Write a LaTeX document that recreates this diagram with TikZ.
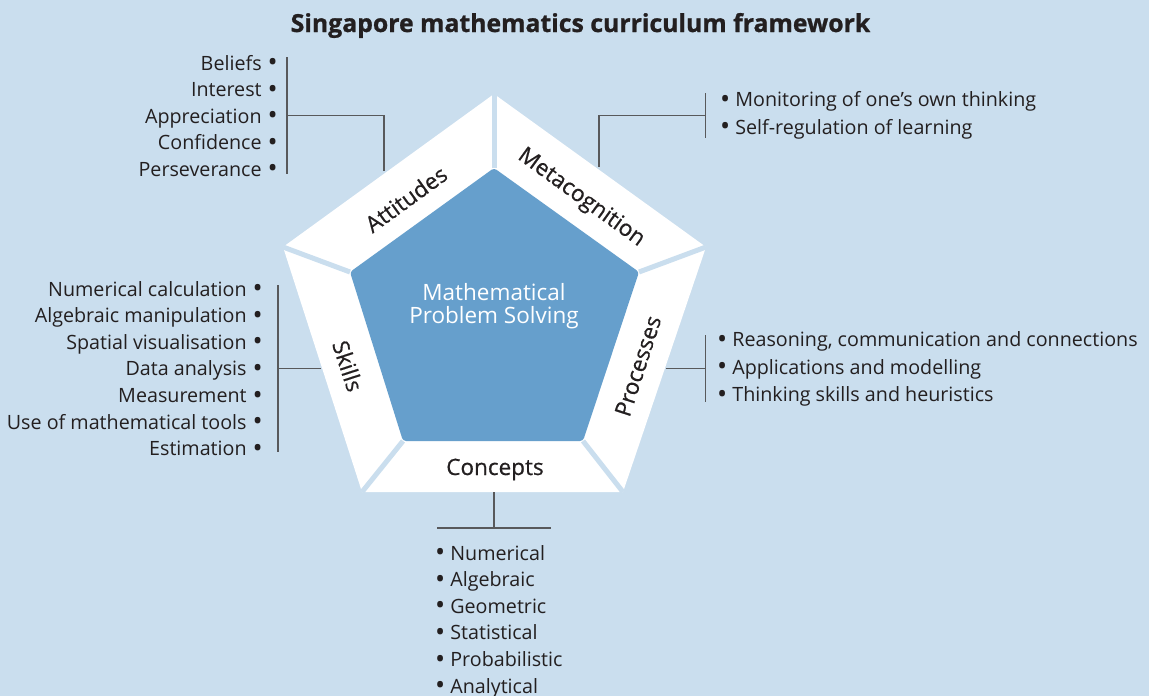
\documentclass[tikz,border=0pt]{standalone}
\usepackage{fontspec}
\setmainfont{Open Sans}
\newfontfamily\labfont[FakeBold=0.6]{Open Sans}
\newfontfamily\titlefont[FakeBold=0.9]{Open Sans Bold}
\newcommand{\bul}{\raisebox{-1.6pt}{\fontsize{27}{27}\selectfont\textbullet}}
\definecolor{bg}{HTML}{CADEEE}
\definecolor{core}{HTML}{669FCC}
\definecolor{ink}{HTML}{231F20}
\definecolor{rule}{HTML}{58595B}
\begin{document}
\begin{tikzpicture}[x=1pt,y=-1pt,
  listtxt/.style={inner sep=0pt, text=ink, font=\fontsize{19.7}{24}\selectfont},
  leftitem/.style={listtxt, anchor=base east},
  rightitem/.style={listtxt, anchor=base west},
  seglabel/.style={inner sep=0pt, text=ink, font=\labfont\fontsize{22.5}{26}\selectfont},
  conn/.style={draw=rule, line width=1.2pt},
  sep/.style={draw=bg, line width=5pt}]
\fill[bg] (0,0) rectangle (1149,696);
\useasboundingbox (0,0) rectangle (1149,696);

% title
\node[anchor=base, inner sep=0pt, text=ink, font=\titlefont\fontsize{24.8}{28}\selectfont] (title) at (580.5,32) {Singapore mathematics curriculum framework};

% pentagon geometry
\coordinate (O1) at (494,94);
\coordinate (O2) at (706,247);
\coordinate (O3) at (623,492);
\coordinate (O4) at (362,492);
\coordinate (O5) at (283,247);
\coordinate (I1) at (494,168);
\coordinate (I2) at (639,272);
\coordinate (I3) at (583,441);
\coordinate (I4) at (403,441);
\coordinate (I5) at (350,272);

\fill[white] (O1) -- (O2) -- (O3) -- (O4) -- (O5) -- cycle;
\fill[core, rounded corners=3pt] (I1) -- (I2) -- (I3) -- (I4) -- (I5) -- cycle;
\foreach \k in {1,...,5} { \draw[sep] (I\k) -- (O\k); }

% segment labels
\node[seglabel, rotate=36] (attL) at (406,199) {Attitudes};
\node[seglabel, rotate=-36] (metaL) at (581,198) {Metacognition};
\node[seglabel, rotate=-72] (skillL) at (348,366) {Skills};
\node[seglabel, rotate=72] (procL) at (638,366) {Processes};
\node[seglabel, anchor=base] (concL) at (495,475) {Concepts};

% centre
\node[inner sep=0pt, text=white, font=\fontsize{22.5}{26}\selectfont, anchor=base] (core1) at (494,300) {Mathematical};
\node[inner sep=0pt, text=white, font=\fontsize{22.5}{26}\selectfont, anchor=base] (core2) at (494,323.5) {Problem Solving};

% lists
\foreach \t [count=\i] in {Beliefs,Interest,Appreciation,Confidence,Perseverance}
  \node[leftitem] (att\i) at (278,{70+26.5*(\i-1)}) {\t\hspace{6pt}\bul};
\foreach \t [count=\i] in {Numerical calculation,Algebraic manipulation,Spatial visualisation,Data analysis,Measurement,Use of mathematical tools,Estimation}
  \node[leftitem] (sk\i) at (263,{296+26.6*(\i-1)}) {\t\hspace{6pt}\bul};
\foreach \t [count=\i] in {Monitoring of one’s own thinking,Self-regulation of learning}
  \node[rightitem] (me\i) at (720,{106.7+27.3*(\i-1)}) {\bul\hspace{5pt}\t};
\foreach \t [count=\i] in {{Reasoning, communication and connections},Applications and modelling,Thinking skills and heuristics}
  \node[rightitem] (pr\i) at (717,{346.7+27.5*(\i-1)}) {\bul\hspace{5pt}\t};
\foreach \t [count=\i] in {Numerical,Algebraic,Geometric,Statistical,Probabilistic,Analytical}
  \node[rightitem] (co\i) at (435,{560+26.6*(\i-1)}) {\bul\hspace{5pt}\t};

% connectors
\coordinate (attTop) at (287,57);
\coordinate (attBot) at (287,174);
\coordinate (attMid) at (287,115.5);
\coordinate (attEnd) at (384,171);
\draw[conn] (attTop) -- (attBot);
\draw[conn] (attMid) -| (attEnd);

\coordinate (metaTop) at (705.5,93);
\coordinate (metaBot) at (705.5,138);
\coordinate (metaMid) at (705.5,115.5);
\coordinate (metaEnd) at (599,167);
\draw[conn] (metaTop) -- (metaBot);
\draw[conn] (metaMid) -| (metaEnd);

\coordinate (skTop) at (278,285);
\coordinate (skBot) at (278,452);
\coordinate (skMid) at (278,368.5);
\coordinate (skEnd) at (321,368.5);
\draw[conn] (skTop) -- (skBot);
\draw[conn] (skMid) -- (skEnd);

\coordinate (prTop) at (705.5,335);
\coordinate (prBot) at (705.5,402);
\coordinate (prMid) at (705.5,368.5);
\coordinate (prEnd) at (666,368.5);
\draw[conn] (prTop) -- (prBot);
\draw[conn] (prMid) -- (prEnd);

\coordinate (coTop) at (494,492);
\coordinate (coMid) at (494,528);
\coordinate (coL) at (437,528);
\coordinate (coR) at (551,528);
\draw[conn] (coTop) -- (coMid);
\draw[conn] (coL) -- (coR);
\end{tikzpicture}
\end{document}
